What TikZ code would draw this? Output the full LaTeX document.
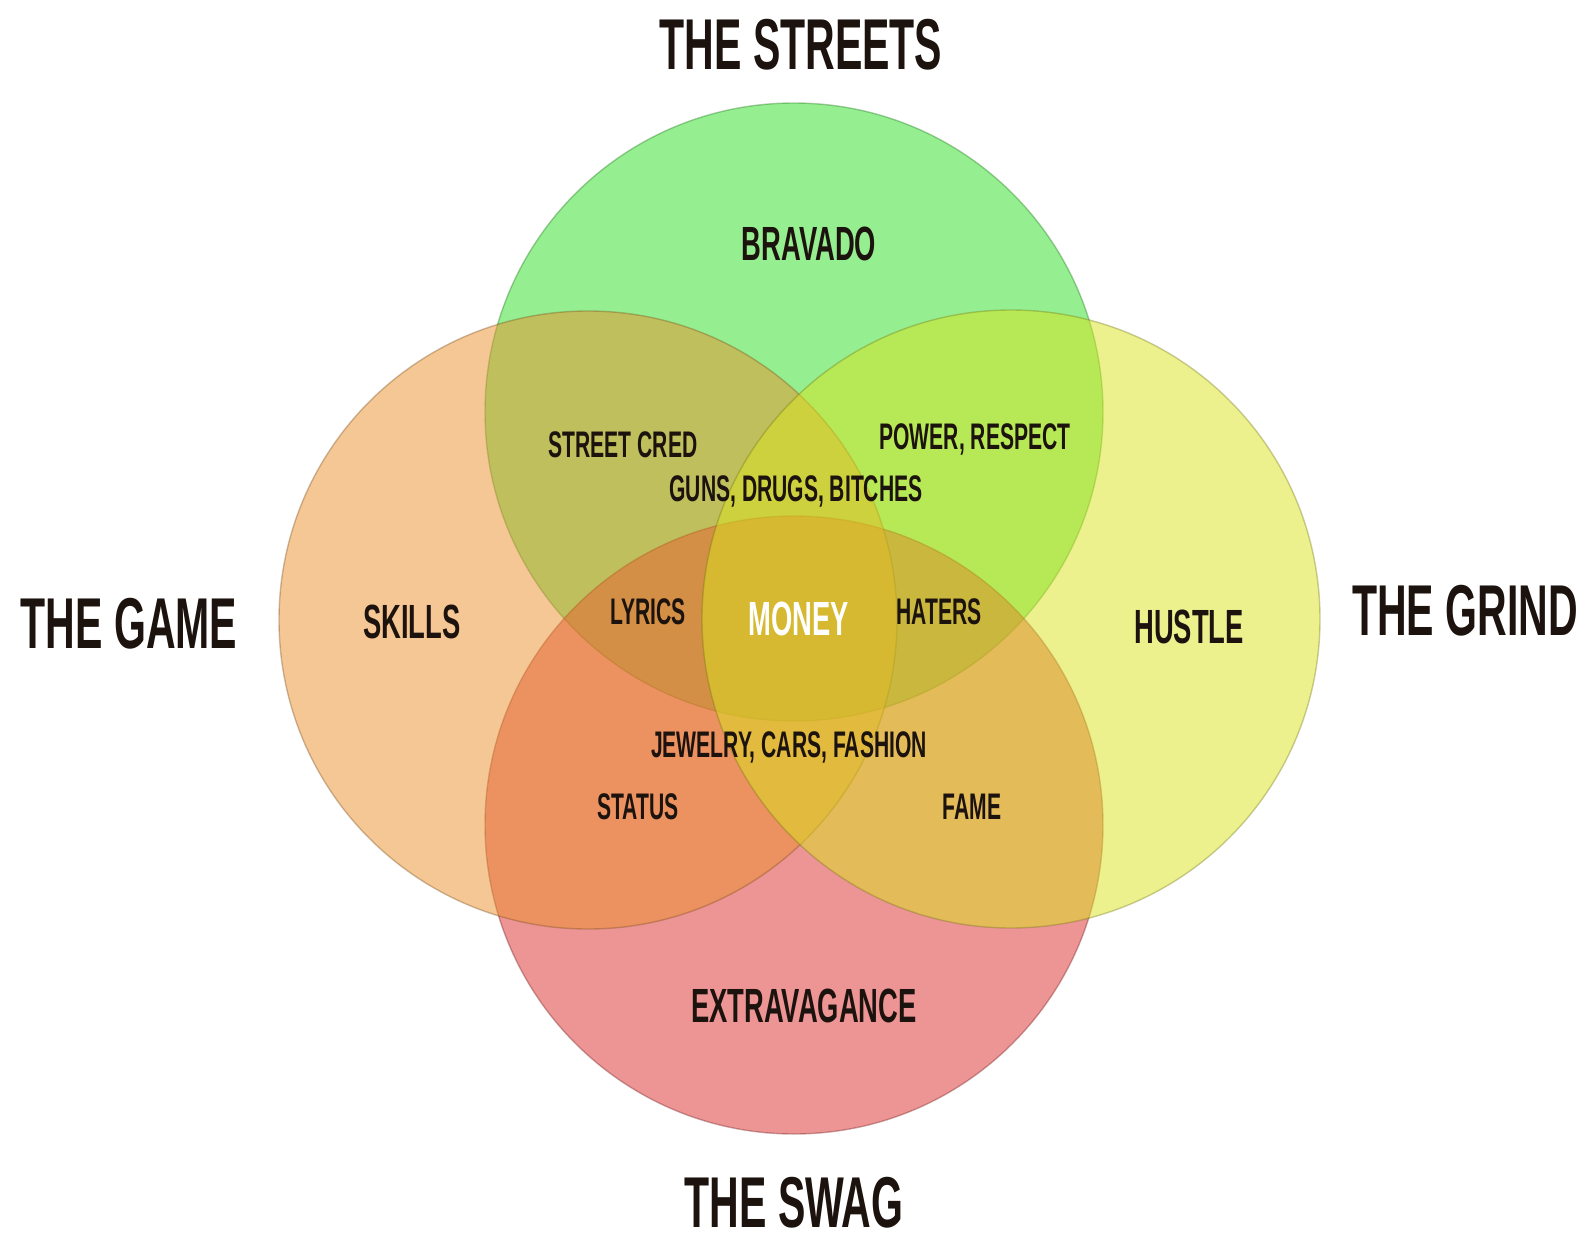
\documentclass[tikz,border=0pt]{standalone}
\usepackage{fontspec}
\setmainfont{Liberation Sans}[FakeStretch=0.57]
\usepackage{tikz}
\usetikzlibrary{positioning}

\definecolor{streetsgreen}{RGB}{45,225,35}
\definecolor{swagpink}{RGB}{221,45,45}
\definecolor{gameorange}{RGB}{235,145,45}
\definecolor{grindyellow}{RGB}{218,228,30}
\definecolor{inkdark}{RGB}{28,18,14}

\begin{document}
\begin{tikzpicture}[x=0.5pt,y=-0.5pt,
  ring/.style={fill opacity=0.5,draw opacity=0.35,line width=0.7pt},
  title/.style={font=\fontsize{36}{40}\selectfont\bfseries,text=inkdark,inner sep=0pt,text depth=0pt},
  big/.style={font=\fontsize{24}{28}\selectfont\bfseries,text=inkdark,inner sep=0pt,text depth=0pt},
  small/.style={font=\fontsize{18.5}{22}\selectfont\bfseries,text=inkdark,inner sep=0pt,text depth=0pt}]
  \fill[white] (0,0) rectangle (1586,1248);
  \useasboundingbox (0,0) rectangle (1586,1248);
  % circle centres
  \coordinate (G) at (794,412);
  \coordinate (P) at (794,825);
  \coordinate (O) at (588,620);
  \coordinate (Y) at (1011,619);
  \filldraw[ring,fill=streetsgreen,draw=streetsgreen!50!black] (G) circle [radius=154.5pt];
  \filldraw[ring,fill=swagpink,draw=swagpink!50!black] (P) circle [radius=154.5pt];
  \filldraw[ring,fill=gameorange,draw=gameorange!50!black] (O) circle [radius=154.5pt];
  \filldraw[ring,fill=grindyellow,draw=grindyellow!50!black] (Y) circle [radius=154.5pt];
  % titles
  \node[title] (streets) at (801,44) {THE STREETS};
  \node[title] (game) at (129,623) {THE GAME};
  \node[title] (grind) at (1465,610) {THE GRIND};
  \node[title] (swag) at (794,1202) {THE SWAG};
  % single sets
  \node[big] (bravado) at (809,244) {BRAVADO};
  \node[big] (skills) at (412,622) {SKILLS};
  \node[big] (hustle) at (1189,627) {HUSTLE};
  \node[big] (extra) at (804,1006) {EXTRAVAGANCE};
  % overlaps
  \node[small] (cred) at (623,445) {STREET CRED};
  \node[small] (power) at (975,437) {POWER, RESPECT};
  \node[small] (guns) at (796,489) {GUNS, DRUGS, BITCHES};
  \node[small] (lyrics) at (648,612) {LYRICS};
  \node[big,text=white] (money) at (799,619) {MONEY};
  \node[small] (haters) at (939,612) {HATERS};
  \node[small] (jewelry) at (789,745) {JEWELRY, CARS, FASHION};
  \node[small] (status) at (638,807) {STATUS};
  \node[small] (fame) at (972,807) {FAME};
\end{tikzpicture}
\end{document}
